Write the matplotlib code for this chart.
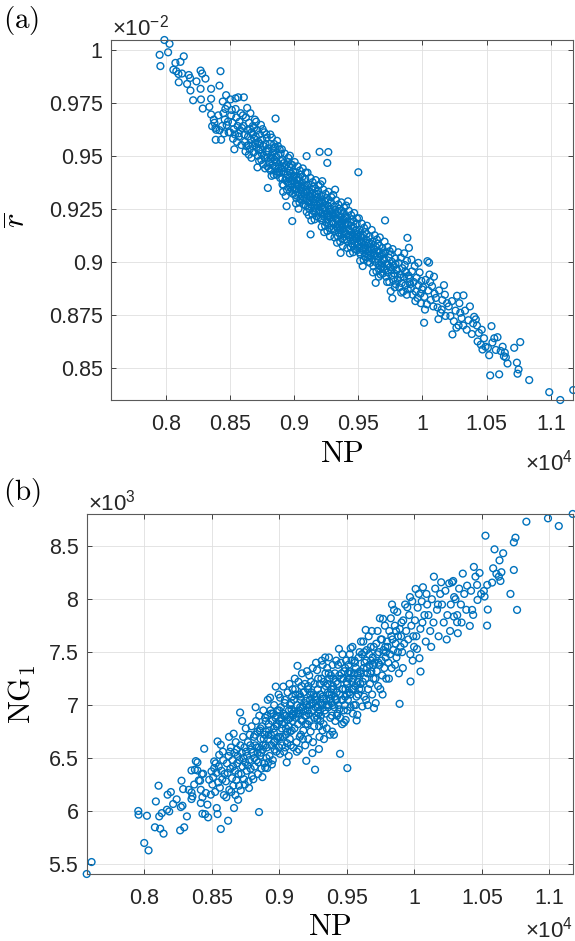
import numpy as np
import matplotlib.pyplot as plt

# ---- panel (a) : NP vs mean r (r in units of 1e-2) ----
a_left = [(7953,.9975),(7959,.9922),(7990,1.0045),
          (8019,.9987),(8030,1.0027),(8076,.9937),(8083,.9898),(8100,.9885),(8102,.9846),(8060,.9905),
          (8115,.9942),(8141,.9968),(8127,.9887),(8180,.9880),(8190,.9866),(8167,.9838),(8193,.9807),
          (8272,.9901),(8284,.9887),(8272,.9815),(8214,.9761),(8275,.9765),(8289,.9722),(8240,.9850),
          (8310,.9863),(8354,.9815),(8354,.9768),(8354,.9694),(8375,.9670),(8362,.9639),(8388,.9631),
          (8390,.9575),(8393,.9622),(8380,.9655),(8340,.9730),
          (8419,.9830),(8427,.9898),(8432,.9575),(8471,.9785),(8450,.9700),(8460,.9670),(8480,.9735),
          (8440,.9640),(8475,.9645),(8410,.9690),(8490,.9610),(8455,.9605),(8420,.9620),(8485,.9660),
          (8465,.9720),(8445,.9755)]

a_core = [(8505,.9765),(8544,.9770),(8565,.9775),(8535,.9530),(8510,.9690),(8520,.9655),(8530,.9625),
          (8540,.9600),(8550,.9680),(8560,.9640),(8570,.9590),(8580,.9620),(8515,.9715),(8525,.9580),
          (8545,.9720),(8555,.9565),(8575,.9660),(8585,.9700),(8590,.9550),(8595,.9630),(8502,.9610),
          (8568,.9605),
          (8609,.9775),(8635,.9725),(8648,.9505),(8605,.9640),(8612,.9600),(8618,.9565),(8625,.9680),
          (8630,.9545),(8638,.9620),(8642,.9590),(8650,.9655),(8655,.9530),(8660,.9700),(8665,.9575),
          (8670,.9610),(8675,.9545),(8680,.9640),(8685,.9515),(8690,.9580),(8695,.9670),(8602,.9690),
          (8622,.9520),(8645,.9550),(8658,.9625),(8668,.9490),(8678,.9600),(8688,.9630),(8698,.9560),
          (8702,.9590),(8708,.9540),(8712,.9620),(8718,.9500),(8722,.9565),(8728,.9475),(8732,.9600),
          (8738,.9530),(8742,.9645),(8748,.9510),(8752,.9575),(8758,.9460),(8762,.9545),(8768,.9610),
          (8772,.9490),(8778,.9555),(8782,.9520),(8788,.9585),(8792,.9450),(8798,.9535),(8705,.9660),
          (8715,.9445),(8735,.9555),(8745,.9480),(8755,.9625),(8765,.9500),(8775,.9440),(8785,.9600),
          (8795,.9490),(8725,.9525),(8796,.9348),
          (8856,.9675),(8802,.9520),(8808,.9470),(8812,.9555),(8818,.9430),(8822,.9500),(8828,.9585),
          (8832,.9455),(8838,.9515),(8842,.9410),(8848,.9480),(8852,.9540),(8858,.9440),(8862,.9495),
          (8868,.9570),(8872,.9425),(8878,.9505),(8882,.9460),(8888,.9530),(8892,.9395),(8898,.9475),
          (8805,.9440),(8815,.9600),(8825,.9405),(8835,.9490),(8845,.9555),(8855,.9450),(8865,.9410),
          (8875,.9545),(8885,.9420),(8895,.9510),
          (8986,.9192),(8942,.9262),(8902,.9440),(8908,.9395),(8912,.9480),(8918,.9360),(8922,.9425),
          (8928,.9510),(8932,.9385),(8938,.9455),(8945,.9340),(8948,.9410),(8952,.9470),(8958,.9370),
          (8962,.9430),(8968,.9500),(8972,.9350),(8978,.9415),(8982,.9385),(8988,.9455),(8992,.9320),
          (8998,.9400),(8905,.9530),(8915,.9330),(8925,.9445),(8935,.9310),(8955,.9490),(8965,.9395),
          (8975,.9460),(8985,.9340),(8995,.9425),(8910,.9365),(8950,.9375),(8970,.9330),
          (9098,.9498),(9002,.9380),(9008,.9340),(9012,.9420),(9018,.9300),(9022,.9365),(9028,.9450),
          (9032,.9325),(9038,.9395),(9042,.9280),(9048,.9350),(9052,.9410),(9058,.9310),(9062,.9375),
          (9068,.9440),(9072,.9290),(9078,.9355),(9082,.9320),(9088,.9390),(9092,.9265),(9096,.9340),
          (9005,.9470),(9015,.9275),(9025,.9385),(9035,.9250),(9045,.9430),(9055,.9335),(9065,.9400),
          (9075,.9270),(9085,.9360),(9095,.9300),(9010,.9315),(9030,.9360),(9050,.9295),(9070,.9330),
          (9090,.9420),(9099,.9235),
          (9129,.9129),(9199,.9518),(9102,.9330),(9108,.9285),(9112,.9365),(9118,.9250),(9122,.9310),
          (9128,.9395),(9132,.9270),(9138,.9340),(9142,.9225),(9148,.9295),(9152,.9355),(9158,.9255),
          (9162,.9320),(9168,.9385),(9172,.9235),(9178,.9300),(9182,.9265),(9188,.9335),(9192,.9210),
          (9198,.9285),(9105,.9420),(9115,.9220),(9125,.9330),(9135,.9195),(9145,.9375),(9155,.9280),
          (9165,.9345),(9175,.9215),(9185,.9305),(9195,.9245),(9110,.9260),(9130,.9305),(9150,.9240),
          (9170,.9275),(9190,.9360),(9160,.9200),
          (9267,.9517),(9259,.9466),(9202,.9275),(9208,.9230),(9212,.9310),(9218,.9195),(9222,.9255),
          (9228,.9340),(9232,.9215),(9238,.9285),(9242,.9170),(9248,.9240),(9252,.9300),(9258,.9200),
          (9262,.9265),(9268,.9330),(9272,.9180),(9278,.9245),(9282,.9210),(9288,.9280),(9292,.9155),
          (9298,.9230),(9205,.9365),(9215,.9165),(9225,.9275),(9235,.9140),(9245,.9320),(9255,.9225),
          (9265,.9290),(9275,.9160),(9285,.9250),(9295,.9190),(9210,.9205),(9230,.9250),(9250,.9185),
          (9270,.9220),(9290,.9305),(9260,.9145),(9220,.9380),(9280,.9120),
          (9363,.9042),(9302,.9225),(9308,.9180),(9312,.9260),(9318,.9145),(9322,.9205),(9328,.9290),
          (9332,.9165),(9338,.9235),(9342,.9120),(9348,.9190),(9352,.9250),(9358,.9150),(9362,.9215),
          (9368,.9280),(9372,.9130),(9378,.9195),(9382,.9160),(9388,.9230),(9392,.9105),(9398,.9180),
          (9305,.9315),(9315,.9115),(9325,.9225),(9335,.9090),(9345,.9270),(9355,.9175),(9365,.9240),
          (9375,.9110),(9385,.9200),(9395,.9140),(9310,.9155),(9330,.9200),(9350,.9135),(9370,.9170),
          (9390,.9255),(9360,.9095),(9320,.9340),(9380,.9075),(9340,.9160),(9396,.9215),
          (9501,.9422),(9402,.9175),(9408,.9130),(9412,.9210),(9418,.9095),(9422,.9155),(9428,.9240),
          (9432,.9115),(9438,.9185),(9442,.9070),(9448,.9140),(9452,.9200),(9458,.9100),(9462,.9165),
          (9468,.9230),(9472,.9080),(9478,.9145),(9482,.9110),(9488,.9180),(9492,.9055),(9498,.9130),
          (9405,.9265),(9415,.9065),(9425,.9175),(9435,.9040),(9445,.9220),(9455,.9125),(9465,.9190),
          (9475,.9060),(9485,.9150),(9495,.9090),(9410,.9105),(9430,.9150),(9450,.9085),(9470,.9120),
          (9490,.9205),(9460,.9045),(9420,.9285),
          (9502,.9115),(9508,.9070),(9512,.9150),(9518,.9035),(9522,.9095),(9528,.9180),(9532,.9055),
          (9538,.9125),(9542,.9010),(9548,.9080),(9552,.9140),(9558,.9040),(9562,.9105),(9568,.9170),
          (9572,.9020),(9578,.9085),(9582,.9050),(9588,.9120),(9592,.8995),(9598,.9070),(9505,.9205),
          (9515,.9005),(9525,.9115),(9535,.8980),(9545,.9160),(9555,.9065),(9565,.9130),(9575,.9000),
          (9585,.9090),(9595,.9030),(9510,.9045),(9530,.9090),(9550,.9025),(9570,.9060),
          (9636,.8901),(9602,.9060),(9608,.9015),(9612,.9095),(9618,.8980),(9622,.9040),(9628,.9125),
          (9632,.9000),(9638,.9070),(9642,.8955),(9648,.9025),(9652,.9085),(9658,.8985),(9662,.9050),
          (9668,.9115),(9672,.8965),(9678,.9030),(9682,.8995),(9688,.9065),(9692,.8945),(9698,.9015),
          (9605,.9150),(9615,.8950),(9625,.9060),(9645,.9105),(9655,.9010),(9665,.9075),(9675,.8940),
          (9685,.9035),(9695,.8975),(9660,.8930),
          (9709,.9195),(9753,.8862),(9766,.8828),(9702,.9010),(9708,.8965),(9712,.9045),(9718,.8930),
          (9722,.8990),(9728,.9070),(9732,.8950),(9738,.9020),(9742,.8905),(9748,.8975),(9752,.9035),
          (9758,.8935),(9762,.9000),(9768,.9060),(9772,.8915),(9778,.8980),(9782,.8945),(9788,.9015),
          (9792,.8895),(9798,.8965),(9705,.9095),(9725,.8905),(9745,.9050),(9785,.8880),
          (9883,.9113),(9895,.9066),(9802,.8960),(9808,.8915),(9815,.8995),(9820,.8880),(9826,.8940),
          (9832,.9020),(9838,.8900),(9844,.8970),(9850,.8860),(9856,.8930),(9862,.8985),(9868,.8890),
          (9874,.8950),(9880,.9005),(9886,.8870),(9892,.8935),(9898,.8905),(9812,.9045),(9835,.8855),
          (9858,.9040),(9878,.8845),
          (9902,.8920),(9910,.8875),(9918,.8955),(9925,.8845),(9932,.8905),(9940,.8980),(9948,.8860),
          (9955,.8925),(9962,.8830),(9970,.8890),(9978,.8950),(9985,.8850),(9992,.8910),(9998,.8870),
          (9915,.9010),(9945,.8815),(9968,.8995),(9988,.8805)]

# extra points filling the densest part of the band
a_fill = [(8820,.9485),(8840,.9535),(8860,.9470),(8880,.9440),(8900,.9420),(8920,.9465),(8940,.9395),
          (8960,.9450),(8980,.9365),(9000,.9405),(9020,.9345),(9040,.9385),(9060,.9350),(9080,.9300),
          (9100,.9360),(9120,.9290),(9140,.9320),(9160,.9265),(9180,.9320),(9200,.9240),(9215,.9290),
          (9240,.9255),(9262,.9215),(9285,.9235),(9300,.9190),(9322,.9245),(9345,.9200),(9366,.9180),
          (9388,.9145),(9400,.9210),(9425,.9125),(9444,.9170),(9466,.9105),(9488,.9130),(9500,.9080),
          (9520,.9125),(9540,.9060),(9560,.9090),(9580,.9030),(9600,.9085),(9630,.9030),(9650,.9050),
          (9680,.8975),(9700,.9040),(9735,.8985),(9760,.8960),(9790,.8990),(9830,.8925),(9865,.8955),
          (9905,.8895)]

a_right = [(10039,.9003),(10052,.8996),(10013,.8713),(10005,.8880),(10015,.8835),(10025,.8915),
           (10035,.8800),(10045,.8865),(10055,.8940),(10065,.8820),(10075,.8885),(10085,.8790),
           (10095,.8850),(10020,.8775),(10060,.8905),(10090,.8930),
           (10105,.8830),(10118,.8785),(10130,.8865),(10142,.8760),(10155,.8820),(10168,.8890),
           (10180,.8745),(10192,.8805),(10125,.8730),(10175,.8845),(10150,.8775),
           (10234,.8658),(10205,.8790),(10218,.8745),(10230,.8815),(10245,.8720),(10258,.8770),
           (10270,.8840),(10282,.8700),(10295,.8760),(10265,.8690),(10288,.8805),
           (10320,.8842),(10305,.8735),(10318,.8700),(10332,.8770),(10345,.8680),(10358,.8725),
           (10370,.8790),(10385,.8660),(10395,.8710),(10403,.8741),(10416,.8729),
           (10455,.8610),(10468,.8587),(10440,.8665),(10425,.8700),(10480,.8640),(10492,.8600),
           (10430,.8625),(10462,.8680),
           (10528,.8465),(10538,.8697),(10560,.8640),(10585,.8645),(10572,.8585),(10545,.8620),
           (10598,.8470),(10510,.8595),(10520,.8560),
           (10642,.8572),(10635,.8555),(10650,.8550),(10663,.8521),(10625,.8600),(10610,.8580),
           (10715,.8595),(10762,.8622),(10736,.8525),(10749,.8493),(10741,.8473),
           (10832,.8443),(10988,.8386),(11074,.8349),(11175,.8396)]

# ---- panel (b) : NP vs NG1 (NG1 in units of 1e3) ----
b_left = [(7574,5.405),(7610,5.518),(7956,6.000),(7958,5.965),
          (8000,5.698),(8032,5.628),(8020,5.955),(8086,6.090),(8079,5.846),
          (8106,6.239),(8118,5.833),(8143,5.786),(8111,5.949),(8130,5.980),(8168,6.012),(8185,5.996),
          (8173,6.154),(8197,6.179),
          (8214,6.066),(8271,6.037),(8283,6.050),(8276,6.286),(8288,6.207),(8266,5.817),(8296,5.846),
          (8240,6.110),
          (8316,5.949),(8350,6.383),(8375,6.390),(8394,6.383),(8350,6.176),(8357,6.138),(8350,6.113),
          (8394,6.459),(8382,6.471),(8330,6.200),(8370,6.250),
          (8404,6.289),(8414,6.286),(8426,6.349),(8436,6.352),(8444,6.588),(8468,6.060),(8451,5.970),
          (8473,5.940),(8431,5.974),(8493,6.154),(8498,6.374),(8419,6.200),(8431,6.130),(8419,6.075),
          (8456,6.170),(8481,6.295)]

b_core = [(8518,6.468),(8543,6.657),(8567,6.625),(8537,6.028),(8543,5.971),(8567,5.830),(8518,6.405),
          (8530,6.450),(8555,6.530),(8505,6.250),(8510,6.320),(8525,6.180),(8535,6.360),(8548,6.270),
          (8552,6.420),(8560,6.220),(8572,6.380),(8578,6.300),(8585,6.480),(8590,6.150),(8595,6.350),
          (8582,6.560),
          (8621,5.908),(8665,6.028),(8695,6.106),(8605,6.280),(8612,6.450),(8618,6.360),(8625,6.520),
          (8630,6.200),(8638,6.400),(8642,6.600),(8650,6.310),(8655,6.480),(8660,6.240),(8668,6.550),
          (8672,6.380),(8678,6.650),(8682,6.290),(8688,6.450),(8692,6.520),(8698,6.350),(8608,6.130),
          (8628,6.700),(8645,6.180),(8658,6.420),(8675,6.150),(8685,6.580),(8635,6.560),(8662,6.730),
          (8710,6.930),(8776,6.217),(8702,6.239),(8715,6.194),(8705,6.480),(8712,6.620),(8718,6.350),
          (8722,6.550),(8728,6.420),(8732,6.700),(8738,6.300),(8742,6.600),(8748,6.460),(8752,6.780),
          (8758,6.380),(8762,6.520),(8768,6.650),(8772,6.280),(8778,6.480),(8782,6.720),(8788,6.400),
          (8792,6.580),(8798,6.330),(8725,6.850),(8745,6.250),(8755,6.560),(8765,6.430),(8785,6.620),
          (8795,6.800),(8735,6.500),
          (8850,5.990),(8805,6.550),(8812,6.700),(8818,6.420),(8822,6.620),(8828,6.850),(8832,6.480),
          (8838,6.750),(8842,6.350),(8848,6.600),(8852,6.900),(8858,6.520),(8862,6.680),(8868,6.400),
          (8872,6.800),(8878,6.580),(8882,6.950),(8888,6.450),(8892,6.720),(8898,6.620),(8808,6.300),
          (8825,6.980),(8835,6.600),(8845,6.460),(8855,6.760),(8865,6.550),(8875,6.320),(8885,6.680),
          (8895,6.880),(8815,6.500),(8896,6.410),
          (8974,7.175),(8932,7.070),(8910,6.405),(8902,6.750),(8908,6.600),(8912,6.900),(8918,6.680),
          (8922,6.820),(8928,6.520),(8935,6.950),(8938,6.720),(8942,6.620),(8948,6.850),(8952,6.480),
          (8958,6.780),(8962,7.000),(8968,6.660),(8972,6.880),(8978,6.560),(8982,6.800),(8988,6.950),
          (8992,6.700),(8998,6.600),(8905,6.500),(8915,7.050),(8925,6.760),(8945,6.440),(8955,6.920),
          (8965,6.580),(8985,6.680),(8995,7.100),(8920,6.460),(8960,6.740),(8980,6.900),
          (9030,7.175),(9006,7.070),(9055,6.459),(9002,6.850),(9008,6.700),(9012,6.980),(9018,6.780),
          (9022,6.620),(9028,6.920),(9035,6.560),(9038,6.830),(9042,7.050),(9048,6.720),(9052,6.900),
          (9058,6.640),(9062,7.120),(9068,6.800),(9072,6.950),(9078,6.680),(9082,6.880),(9088,7.020),
          (9092,6.760),(9098,6.920),(9005,6.540),(9015,6.880),(9025,6.700),(9045,6.600),(9065,6.860),
          (9075,7.200),(9085,6.620),(9095,7.080),(9050,6.780),(9070,6.520),(9090,6.960),(9040,6.900),
          (9080,6.750),
          (9135,7.371),(9099,7.150),(9102,6.900),(9108,7.050),(9112,6.780),(9118,7.150),(9122,6.880),
          (9128,6.650),(9132,7.000),(9138,6.820),(9142,7.220),(9148,6.950),(9152,6.700),(9158,7.080),
          (9162,6.860),(9168,7.300),(9172,6.980),(9178,6.760),(9182,7.120),(9188,6.900),(9192,6.620),
          (9198,7.040),(9105,6.600),(9115,7.250),(9125,6.920),(9145,6.580),(9155,6.980),(9165,7.180),
          (9175,6.680),(9185,7.020),(9195,6.820),(9110,6.940),(9130,6.560),(9150,7.100),(9170,6.850),
          (9190,7.200),(9160,6.720),(9180,6.940),
          (9200,6.474),(9265,6.390),(9245,6.547),(9294,6.585),(9202,7.000),(9208,6.820),(9212,7.150),
          (9218,6.920),(9222,7.280),(9228,7.050),(9232,6.750),(9238,7.120),(9242,6.950),(9248,7.350),
          (9252,7.020),(9258,6.800),(9262,7.200),(9268,6.980),(9272,7.400),(9278,7.080),(9282,6.870),
          (9288,7.250),(9292,7.000),(9298,6.700),(9205,7.320),(9215,6.680),(9225,7.000),(9235,7.220),
          (9250,6.650),(9255,7.100),(9275,6.900),(9285,7.150),(9295,6.800),(9210,6.950),(9230,7.100),
          (9260,6.880),(9270,7.050),(9290,6.920),(9220,6.850),(9280,7.330),
          (9331,6.679),(9302,7.100),(9308,6.900),(9312,7.250),(9318,7.000),(9322,7.380),(9328,6.820),
          (9335,7.150),(9338,6.950),(9342,7.300),(9348,7.050),(9352,6.780),(9358,7.200),(9362,6.980),
          (9368,7.450),(9372,7.100),(9378,6.880),(9382,7.280),(9388,7.020),(9392,6.750),(9398,7.180),
          (9305,6.850),(9315,7.420),(9325,7.060),(9345,6.920),(9355,7.350),(9365,7.000),(9375,6.720),
          (9385,7.150),(9395,7.380),(9310,7.020),(9330,7.220),(9350,7.000),(9370,7.250),(9390,6.900),
          (9360,7.120),(9320,6.760),(9380,7.060),(9340,7.450),(9396,7.000),(9300,6.950),
          (9442,7.531),(9450,6.540),(9405,6.720),(9492,6.860),(9480,6.836),(9402,7.150),(9408,6.980),
          (9412,7.300),(9418,7.050),(9422,7.420),(9428,6.900),(9432,7.200),(9438,7.000),(9448,7.100),
          (9452,6.880),(9458,7.250),(9462,7.050),(9468,7.480),(9472,7.150),(9478,6.950),(9482,7.320),
          (9488,7.080),(9498,7.220),(9415,6.850),(9425,7.120),(9435,7.380),(9445,6.960),(9455,7.400),
          (9465,6.820),(9475,7.250),(9485,7.000),(9495,7.420),(9410,7.080),(9430,6.920),(9470,7.050),
          (9490,7.150),(9460,7.300),(9420,7.220),
          (9504,6.405),(9529,7.537),(9573,6.855),(9578,6.908),(9502,7.200),(9508,7.050),(9512,7.380),
          (9518,7.120),(9522,7.480),(9528,6.980),(9532,7.300),(9538,7.150),(9542,7.550),(9548,7.250),
          (9552,7.000),(9558,7.420),(9562,7.180),(9568,7.350),(9572,7.080),(9582,7.280),(9588,7.450),
          (9592,7.150),(9598,7.320),(9505,6.950),(9515,7.250),(9525,7.100),(9535,7.420),(9545,6.920),
          (9555,7.300),(9565,7.000),(9585,7.100),(9595,7.500),(9510,7.300),(9550,7.150),(9580,7.220),
          (9640,7.710),(9615,6.987),(9602,7.300),(9608,7.150),(9612,7.480),(9618,7.220),(9622,7.600),
          (9628,7.080),(9632,7.400),(9638,7.250),(9642,7.050),(9648,7.520),(9652,7.300),(9658,7.150),
          (9662,7.650),(9668,7.380),(9672,7.200),(9678,7.550),(9682,7.320),(9688,7.100),(9692,7.450),
          (9698,7.250),(9605,7.600),(9625,7.350),(9645,7.420),(9655,7.000),(9665,7.480),(9675,7.300),
          (9685,7.700),(9695,7.380),
          (9714,7.019),(9701,6.971),(9768,7.814),(9705,7.400),(9712,7.250),(9718,7.580),(9722,7.320),
          (9728,7.700),(9732,7.180),(9738,7.500),(9742,7.380),(9748,7.150),(9752,7.620),(9758,7.420),
          (9762,7.280),(9772,7.520),(9778,7.350),(9782,7.750),(9788,7.450),(9792,7.250),(9798,7.600),
          (9725,7.480),(9745,7.820),(9765,7.100),(9785,7.550),
          (9850,7.899),(9891,7.012),(9802,7.550),(9808,7.400),(9815,7.700),(9820,7.480),(9826,7.820),
          (9832,7.350),(9838,7.620),(9844,7.520),(9856,7.750),(9862,7.580),(9868,7.450),(9874,7.880),
          (9880,7.650),(9886,7.300),(9892,7.720),(9898,7.550),(9812,7.250),(9835,7.950),(9858,7.380),
          (9878,7.500),
          (9948,7.924),(9972,7.223),(9902,7.650),(9910,7.500),(9918,7.800),(9925,7.580),(9932,7.950),
          (9940,7.700),(9955,7.620),(9962,7.850),(9970,7.480),(9978,7.750),(9985,7.980),(9992,7.650),
          (9998,7.550),(9915,7.350),(9968,8.020),(9988,7.420)]

b_fill = [(8820,6.72),(8840,6.55),(8860,6.78),(8880,6.62),(8900,6.85),(8920,6.72),(8940,6.92),
          (8960,6.65),(8980,6.82),(9000,6.95),(9020,6.82),(9040,7.02),(9060,6.75),(9080,7.00),
          (9100,6.85),(9120,7.10),(9140,6.92),(9160,7.05),(9180,7.12),(9200,6.90),(9215,7.18),
          (9240,7.02),(9262,7.08),(9285,6.98),(9300,7.20),(9322,7.08),(9345,7.18),(9366,7.30),
          (9388,7.10),(9400,7.25),(9425,7.05),(9444,7.28),(9466,7.15),(9488,7.35),(9500,7.10),
          (9520,7.32),(9540,7.22),(9560,7.40),(9580,7.30),(9600,7.20),(9630,7.50),(9650,7.35),
          (9680,7.42),(9700,7.55),(9735,7.40),(9760,7.62),(9790,7.50),(9830,7.65),(9865,7.70),
          (9905,7.78)]

b_right = [(10010,8.097),(10064,8.113),(10034,8.050),(10046,7.317),(10038,7.443),(10005,7.800),
           (10015,7.650),(10025,7.920),(10045,7.720),(10055,7.980),(10075,7.850),(10085,7.600),
           (10095,7.950),(10020,7.530),(10060,7.780),(10090,8.050),
           (10145,8.213),(10199,8.160),(10105,7.850),(10118,7.700),(10130,8.000),(10142,7.780),
           (10155,8.100),(10168,7.900),(10180,7.650),(10192,8.050),(10125,7.550),(10175,7.950),
           (10280,8.160),(10288,8.172),(10205,7.950),(10218,7.780),(10230,8.080),(10245,7.850),
           (10258,8.150),(10270,7.950),(10265,7.700),(10295,8.020),(10240,7.620),(10293,7.836),
           (10322,7.679),(10359,8.242),(10391,8.128),(10305,8.000),(10318,7.850),(10332,8.100),
           (10345,7.950),(10370,8.050),(10385,7.900),(10350,7.780),(10317,7.783),
           (10411,7.748),(10441,8.305),(10453,8.213),(10465,8.135),(10468,7.993),(10428,7.899),
           (10436,7.852),(10483,8.248),(10420,8.080),(10495,8.050),
           (10527,8.600),(10540,8.135),(10576,8.157),(10515,8.078),(10520,8.025),(10544,7.902),
           (10539,7.751),(10584,8.292),(10594,8.471),
           (10608,8.240),(10645,8.255),(10626,8.213),(10638,8.172),(10658,8.434),(10631,8.367),
           (10749,8.581),(10737,8.537),(10737,8.276),(10712,8.050),(10761,7.899),
           (10830,8.732),(10990,8.764),(11070,8.691),(11173,8.805)]

xticks = [0.8, 0.85, 0.9, 0.95, 1.0, 1.05, 1.1]
xtick_labels = ['0.8', '0.85', '0.9', '0.95', '1', '1.05', '1.1']
yticks_a = [0.85, 0.875, 0.9, 0.925, 0.95, 0.975, 1.0]
ytick_labels_a = ['0.85', '0.875', '0.9', '0.925', '0.95', '0.975', '1']
yticks_b = [5.5, 6, 6.5, 7, 7.5, 8, 8.5]
ytick_labels_b = ['5.5', '6', '6.5', '7', '7.5', '8', '8.5']

pa = np.array(a_left + a_core + a_fill + a_right)
pb = np.array(b_left + b_core + b_fill + b_right)
np_a, rbar = pa[:, 0] / 1e4, pa[:, 1]
np_b, ng1 = pb[:, 0] / 1e4, pb[:, 1]

plt.rcParams['font.family'] = 'Liberation Sans'
plt.rcParams['mathtext.fontset'] = 'custom'
plt.rcParams['mathtext.rm'] = 'Liberation Sans'
plt.rcParams['mathtext.it'] = 'Liberation Sans:italic'

blue = '#0072BD'
tick_col = '#262626'

fig = plt.figure(figsize=(5.75, 9.41), dpi=100)
ax_a = fig.add_axes([0.193, 0.5749, 0.8035, 0.3826])
ax_b = fig.add_axes([0.1508, 0.0712, 0.8452, 0.3826])

xlim = (np_b.min(), np_b.max())


def style(ax, yt, ytl):
    ax.set_xticks(xticks)
    ax.set_xticklabels(xtick_labels)
    ax.set_yticks(yt)
    ax.set_yticklabels(ytl)
    ax.grid(True, color='#dfdfdf', linewidth=0.6)
    ax.set_axisbelow(True)
    ax.tick_params(direction='in', length=3.5, width=0.6, top=True, right=True,
                   labelsize=15.5, colors=tick_col, pad=10)
    ax.tick_params(axis='y', pad=6)
    for s in ax.spines.values():
        s.set_color('#5a5a5a')
        s.set_linewidth(0.8)


ax_a.scatter(np_a, rbar, s=24, facecolors='none', edgecolors=blue, linewidths=1.0, clip_on=False)
ax_a.set_xlim(xlim)
ax_a.set_ylim(rbar.min(), rbar.max())
style(ax_a, yticks_a, ytick_labels_a)

ax_b.scatter(np_b, ng1, s=24, facecolors='none', edgecolors=blue, linewidths=1.0, clip_on=False)
ax_b.set_xlim(xlim)
ax_b.set_ylim(ng1.min(), ng1.max())
style(ax_b, yticks_b, ytick_labels_b)

# axis labels (LaTeX-like serif)
ax_a.set_xlabel(r'$\mathrm{NP}$', fontsize=22, math_fontfamily='cm')
ax_a.xaxis.set_label_coords(0.5, -0.15)
ax_a.xaxis.label.set_va('center')
ax_a.set_ylabel(r'$\overline{r}$', fontsize=22, math_fontfamily='cm')
ax_a.yaxis.set_label_coords(-0.203, 0.5)
ax_a.yaxis.label.set_ha('center')
ax_a.yaxis.label.set_va('center')

ax_b.set_xlabel(r'$\mathrm{NP}$', fontsize=22, math_fontfamily='cm')
ax_b.xaxis.set_label_coords(0.5, -0.147)
ax_b.xaxis.label.set_va('center')
ax_b.set_ylabel(r'$\mathrm{NG}_1$', fontsize=22, math_fontfamily='cm')
ax_b.yaxis.set_label_coords(-0.133, 0.5)
ax_b.yaxis.label.set_ha('center')
ax_b.yaxis.label.set_va('center')

# exponent multipliers
fig.text(0.195, 0.9628, '×10$^{-2}$', fontsize=16, color=tick_col, va='baseline')
fig.text(0.997, 0.5005, '×10$^{4}$', fontsize=16, color=tick_col, va='baseline', ha='right')
fig.text(0.153, 0.458, '×10$^{3}$', fontsize=16, color=tick_col, va='baseline')
fig.text(0.997, 0.004, '×10$^{4}$', fontsize=16, color=tick_col, va='baseline', ha='right')

# panel letters
fig.text(0.006, 0.996, r'$\mathrm{(a)}$', fontsize=21, va='top', math_fontfamily='cm')
fig.text(0.006, 0.494, r'$\mathrm{(b)}$', fontsize=21, va='top', math_fontfamily='cm')

fig.savefig('out.png', dpi=100)
